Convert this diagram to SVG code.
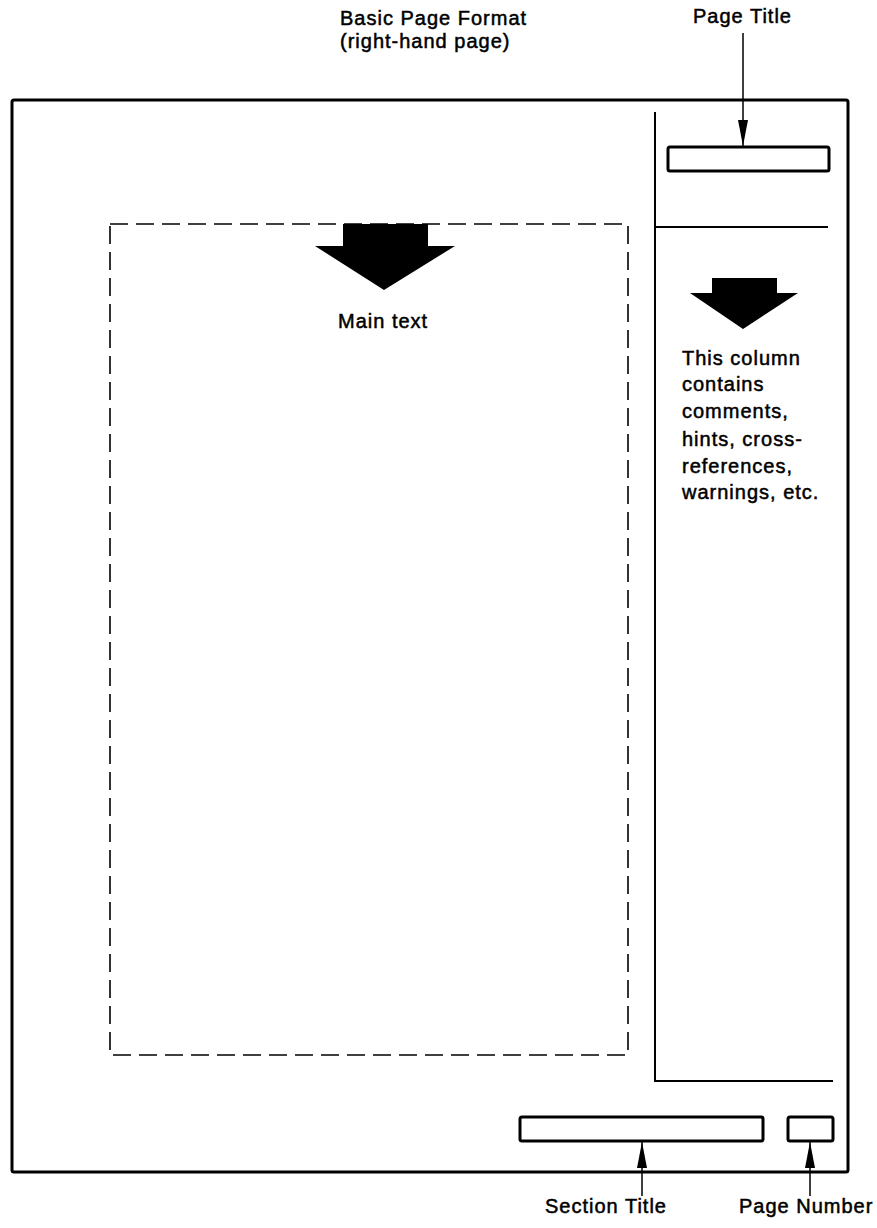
<svg xmlns="http://www.w3.org/2000/svg" width="877" height="1228" viewBox="0 0 877 1228">
<style>
text{font-family:"Liberation Sans",Arial,sans-serif;font-size:20px;letter-spacing:1px;fill:#000;stroke:#000;stroke-width:0.5}
.page{fill:none;stroke:#000;stroke-width:3}
.line{fill:none;stroke:#000;stroke-width:2}
.box{fill:#fff;stroke:#000;stroke-width:3}
.dash{fill:none;stroke:#000;stroke-width:1.6;stroke-dasharray:18 8}
.conn{fill:none;stroke:#000;stroke-width:1.5}
.big{fill:#000}
</style>
<defs>
<marker id="ah" viewBox="0 0 26 10" refX="26" refY="5" markerWidth="26" markerHeight="10" markerUnits="userSpaceOnUse" orient="auto">
<path d="M0,0 L26,5 L0,10 Z" fill="#000"/>
</marker>
</defs>
<g id="title">
<text x="340" y="25">Basic Page Format</text>
<text x="340" y="48">(right-hand page)</text>
</g>
<g id="page">
<rect class="page" x="12" y="100" width="836" height="1072" rx="2"/>
<path class="line" d="M655,112 V1081 H833"/>
<path class="line" d="M655,227 H828"/>
</g>
<g id="main-area">
<rect class="dash" x="110" y="224" width="518" height="831"/>
<path class="big" d="M343,224 H428 V246 H455 L384,290 L315,246 H343 Z"/>
<text x="338" y="328">Main text</text>
</g>
<g id="side-column">
<path class="big" d="M712,278 H777 V293 H798 L743,329 L690,293 H712 Z"/>
<text x="682" y="365">This column</text>
<text x="682" y="391">contains</text>
<text x="682" y="418">comments,</text>
<text x="682" y="446">hints, cross-</text>
<text x="682" y="473">references,</text>
<text x="682" y="499">warnings, etc.</text>
</g>
<g id="page-title">
<text x="693" y="23">Page Title</text>
<rect class="box" x="668" y="147" width="161" height="24" rx="2"/>
</g>
<g id="section-title">
<rect class="box" x="520" y="1117" width="243" height="24" rx="2"/>
<text x="545" y="1213">Section Title</text>
</g>
<g id="page-number">
<rect class="box" x="788" y="1117" width="45" height="24" rx="2"/>
<text x="739" y="1213">Page Number</text>
</g>
<g id="connectors">
<path class="conn" d="M743,33 V146" marker-end="url(#ah)"/>
<path class="conn" d="M642,1196 V1142" marker-end="url(#ah)"/>
<path class="conn" d="M810,1196 V1142" marker-end="url(#ah)"/>
</g>
</svg>
